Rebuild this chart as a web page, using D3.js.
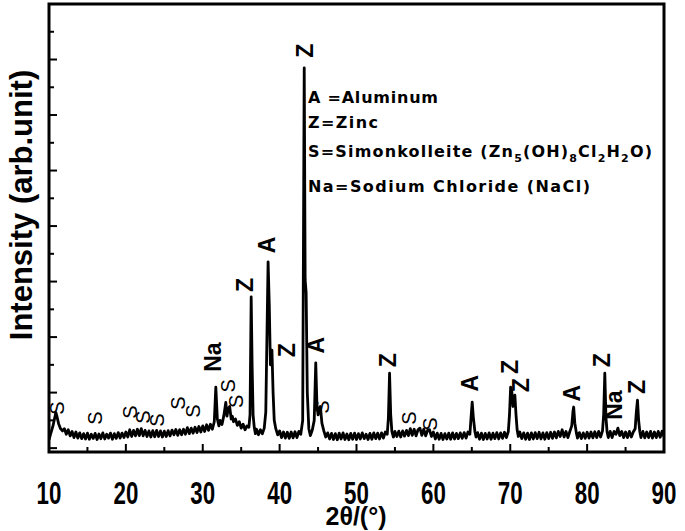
<!DOCTYPE html>
<html><head><meta charset="utf-8">
<script src="https://cdn.jsdelivr.net/npm/d3@7"></script>
<style>html,body{margin:0;padding:0;background:#fff;}svg{display:block;}</style>
</head><body>
<svg id="chart" width="685" height="531"></svg>
<script>
// XRD pattern: [2theta (deg), intensity (arb. unit)]
const pattern = [
[10.0,30],[10.25,55],[10.5,78],[10.75,110],[10.9,128],[11.0,118],[11.25,88],[11.5,70],[11.75,62],
[12.0,70],[12.25,50],[12.5,66],[12.75,44],[13.0,60],[13.25,38],[13.5,58],[13.75,36],[14.0,55],[14.25,34],
[14.5,52],[14.75,33],[15.0,54],[15.25,32],[15.5,50],[15.75,35],[16.0,53],[16.25,31],[16.5,51],[16.75,34],
[17.0,55],[17.25,33],[17.5,50],[17.75,36],[18.0,54],[18.25,32],[18.5,52],[18.75,35],[19.0,56],[19.25,36],
[19.5,54],[19.75,38],[20.0,58],[20.25,40],[20.5,66],[20.75,42],[21.0,64],[21.25,44],[21.5,68],[21.75,45],
[22.0,70],[22.25,44],[22.5,64],[22.75,42],[23.0,62],[23.25,40],[23.5,63],[23.75,41],[24.0,64],[24.25,42],
[24.5,62],[24.75,40],[25.0,61],[25.25,42],[25.5,63],[25.75,44],[26.0,65],[26.25,48],[26.5,67],[26.75,46],
[27.0,66],[27.25,48],[27.5,68],[27.75,50],[28.0,74],[28.25,52],[28.5,72],[28.75,54],[29.0,75],[29.25,56],
[29.5,78],[29.75,58],[30.0,80],[30.25,60],[30.5,84],[30.75,64],[31.0,86],[31.25,68],[31.5,95],[31.7,220],
[31.9,105],[32.1,80],[32.25,100],[32.5,85],[32.75,118],[33.0,165],[33.15,115],[33.3,140],[33.5,150],[33.7,105],
[33.85,115],[34.0,95],[34.25,105],[34.5,82],[34.75,95],[35.0,72],[35.25,86],[35.5,66],[35.75,80],[36.0,75],
[36.15,120],[36.3,545],[36.42,300],[36.55,120],[36.7,75],[36.85,52],[37.0,68],[37.25,48],[37.5,66],[37.75,52],
[38.0,72],[38.2,130],[38.35,400],[38.5,671],[38.65,520],[38.8,300],[39.0,353],[39.15,200],[39.3,100],[39.5,70],
[39.75,48],[40.0,62],[40.25,38],[40.5,58],[40.75,36],[41.0,57],[41.25,35],[41.5,58],[41.75,37],[42.0,59],
[42.25,38],[42.5,60],[42.75,50],[43.0,100],[43.2,1370],[43.32,606],[43.45,560],[43.6,200],[43.8,70],[44.0,45],
[44.25,65],[44.5,100],[44.7,307],[44.85,160],[45.0,120],[45.3,150],[45.5,90],[45.75,62],[46.0,40],
[46.25,55],[46.5,33],[46.75,53],[47.0,31],[47.25,52],[47.5,30],[47.75,54],[48.0,33],[48.25,55],[48.5,31],
[48.75,51],[49.0,30],[49.25,53],[49.5,32],[49.75,54],[50.0,31],[50.25,52],[50.5,33],[50.75,55],[51.0,34],
[51.25,50],[51.5,31],[51.75,53],[52.0,32],[52.25,55],[52.5,34],[52.75,54],[53.0,33],[53.25,55],[53.5,36],
[53.75,58],[54.0,50],[54.15,110],[54.3,270],[54.45,120],[54.6,60],[54.8,40],[55.0,60],[55.25,42],[55.5,61],
[55.75,40],[56.0,62],[56.25,43],[56.5,64],[56.75,45],[57.0,70],[57.25,46],[57.5,68],[57.75,44],[58.0,66],
[58.25,72],[58.5,46],[58.75,68],[59.0,44],[59.25,64],[59.5,66],[59.75,42],[60.0,58],
[60.25,33],[60.5,54],[60.75,32],[61.0,53],[61.25,31],[61.5,52],[61.75,33],[62.0,54],[62.25,32],[62.5,55],
[62.75,33],[63.0,53],[63.25,34],[63.5,55],[63.75,35],[64.0,56],[64.25,36],[64.5,58],[64.75,50],[64.9,110],
[65.05,166],[65.2,110],[65.4,60],[65.55,40],[65.75,56],[66.0,32],[66.25,54],[66.5,31],[66.75,53],[67.0,33],
[67.25,55],[67.5,32],[67.75,54],[68.0,34],[68.25,56],[68.5,33],[68.75,55],[69.0,35],[69.25,57],[69.5,38],
[69.75,60],[69.9,120],[70.05,220],[70.2,205],[70.35,150],[70.5,180],[70.6,191],[70.75,120],[70.9,65],[71.05,42],
[71.25,58],[71.5,34],[71.75,55],[72.0,32],[72.25,54],[72.5,31],[72.75,55],[73.0,33],[73.25,56],[73.5,34],
[73.75,57],[74.0,33],[74.25,55],[74.5,32],[74.75,56],[75.0,34],[75.25,57],[75.5,35],[75.75,58],[76.0,37],
[76.25,60],[76.5,42],[76.75,66],[77.0,40],[77.25,60],[77.5,38],[77.75,60],[78.0,80],[78.15,130],[78.25,148],
[78.4,90],[78.6,55],[78.75,36],[79.0,56],[79.25,34],[79.5,55],[79.75,35],[80.0,57],[80.25,36],[80.5,58],
[80.75,37],[81.0,59],[81.25,38],[81.5,60],[81.75,40],[82.0,62],[82.15,120],[82.3,270],[82.45,110],[82.6,58],
[82.75,38],[83.0,60],[83.25,38],[83.5,60],[83.75,50],[84.0,72],[84.25,45],[84.5,60],[84.75,38],[85.0,58],
[85.25,38],[85.5,60],[85.75,40],[86.0,58],[86.25,70],[86.4,130],[86.55,173],[86.7,100],[86.85,60],[87.0,38],
[87.25,60],[87.5,37],[87.75,58],[88.0,38],[88.25,60],[88.5,36],[88.75,58],[89.0,38],[89.25,60],[89.5,39],
[89.75,61],[90.0,42]
];

// Phase labels: [label, 2theta, intensity at label centre]
const peakLabels = [
["Z",43.3,1432],["Z",35.5,588],["A",38.36,732],["Z",40.96,353],["A",44.73,371],["Na",31.33,328],
["Z",54.1,317],["A",64.77,234],["Z",69.97,292],["Z",71.4,227],["A",78.03,198],["Z",81.93,317],
["Na",83.5,155],["Z",86.49,220]
];
const sLabels = [
[11.04,144],[15.98,108],[20.54,130],[22.23,112],[24.05,101],[26.78,162],[28.73,133],
[33.28,224],[34.33,169],[45.51,148],[56.83,108],[59.56,87]
];

const xMajor = [10,20,30,40,50,60,70,80,90];
const xMinor = [15,25,35,45,55,65,75,85];
const yMajor = [0,200,400,600,800,1000,1200,1400];
const yMinor = [100,300,500,700,900,1100,1300,1500];

const legendLines = [
[["A =Aluminum",0]],
[["Z=Zinc",0]],
[["S=Simonkolleite (Zn",0],["5",1],["(OH)",0],["8",1],["Cl",0],["2",1],["H",0],["2",1],["O)",0]],
[["Na=Sodium  Chloride (NaCl)",0]]
];

const svg = d3.select("#chart");
const L=49,R=664,T=4,B=452;
const x = d3.scaleLinear().domain([10,90]).range([L,R]);
const y = d3.scaleLinear().domain([-14,1600]).range([B,T]);
const SANS = "'Liberation Sans',Arial,sans-serif";

svg.append("defs").append("clipPath").attr("id","clip")
  .append("rect").attr("x",L).attr("y",T).attr("width",R-L).attr("height",B-T);

// data line
svg.append("path").datum(pattern)
  .attr("clip-path","url(#clip)")
  .attr("fill","none").attr("stroke","#000").attr("stroke-width",2.8)
  .attr("stroke-linejoin","round")
  .attr("d", d3.line().x(d=>x(d[0])).y(d=>y(d[1])));

// ticks (inward)
const tg = svg.append("g").attr("stroke","#000").attr("stroke-width",2);
tg.selectAll(null).data(xMajor).join("line").attr("x1",d=>x(d)).attr("x2",d=>x(d)).attr("y1",B).attr("y2",B-8);
tg.selectAll(null).data(xMinor).join("line").attr("x1",d=>x(d)).attr("x2",d=>x(d)).attr("y1",B).attr("y2",B-5);
tg.selectAll(null).data(yMajor).join("line").attr("y1",d=>y(d)).attr("y2",d=>y(d)).attr("x1",L).attr("x2",L+8);
tg.selectAll(null).data(yMinor).join("line").attr("y1",d=>y(d)).attr("y2",d=>y(d)).attr("x1",L).attr("x2",L+5);

// frame
svg.append("rect").attr("x",L).attr("y",T).attr("width",R-L).attr("height",B-T)
  .attr("fill","none").attr("stroke","#000").attr("stroke-width",3);

// x tick labels (condensed bold)
const xl = svg.selectAll(null).data(xMajor).join("g")
  .attr("transform",d=>"translate(" + x(d) + ",504)");
xl.append("text").attr("transform","scale(0.72,1)")
  .attr("text-anchor","middle").attr("font-family",SANS).attr("font-weight","bold")
  .attr("font-size",31).text(d=>d);

// axis titles
svg.append("g").attr("transform","translate(356,525)").append("text")
  .attr("text-anchor","middle").attr("font-family",SANS)
  .attr("font-weight","bold").attr("font-size",25).text("2θ/(°)");
svg.append("text").attr("transform","translate(32,205) rotate(-90)")
  .attr("text-anchor","middle").attr("font-family",SANS)
  .attr("font-weight","bold").attr("font-size",31).text("Intensity (arb.unit)");

// peak labels (rotated, reading upward)
const pg = svg.selectAll(null).data(peakLabels).join("g")
  .attr("transform",d=>"translate(" + x(d[1]) + "," + y(d[2]) + ")");
pg.append("text").attr("transform","rotate(-90)")
  .attr("x",0).attr("y",8)
  .attr("text-anchor","middle")
  .attr("font-family",SANS).attr("font-weight","bold")
  .attr("font-size",23).text(d=>d[0]);

const sg = svg.selectAll(null).data(sLabels).join("g")
  .attr("transform",d=>"translate(" + x(d[0]) + "," + y(d[1]) + ")");
sg.append("text").attr("transform","rotate(-90)")
  .attr("x",0).attr("y",7)
  .attr("text-anchor","middle")
  .attr("font-family",SANS).attr("font-size",20).text("S");

// legend
const lg = svg.append("g").attr("font-family","'DejaVu Sans',sans-serif")
  .attr("font-weight","bold").attr("font-size",16);
const lgY = [103,128,157,192];
const lgW = [130,70,344,282];
legendLines.forEach((segs,i)=>{
  const t = lg.append("text").attr("x",308).attr("y",lgY[i])
    .attr("textLength",lgW[i]).attr("lengthAdjust","spacing");
  let sub=false;
  segs.forEach(s=>{
    const ts = t.append("tspan").text(s[0]);
    if (s[1] && !sub){ ts.attr("dy",5).attr("font-size",11); sub=true; }
    else if (s[1] && sub){ ts.attr("font-size",11); }
    else if (!s[1] && sub){ ts.attr("dy",-5); sub=false; }
  });
});
</script>
</body></html>
